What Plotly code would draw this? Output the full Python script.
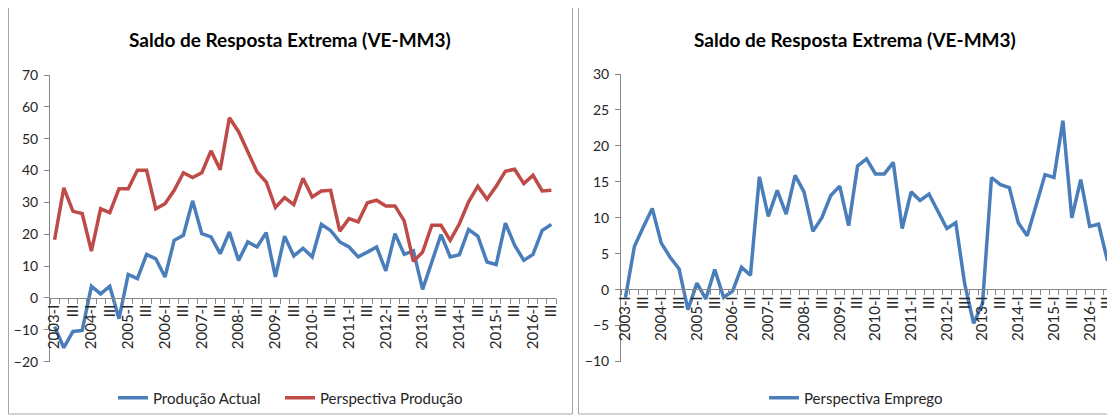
import plotly.graph_objects as go

W, H = 1115, 418
OFF = 8  # page body margin offset of the rendered figure

years = list(range(2003, 2017))
quarter_names = ["I", "II", "III", "IV"]
categories = [f"{y}-{q}" for y in years for q in quarter_names][:55]
# shown labels: every second category ("2003-I", "III", "2004-I", "III", ...)
tick_labels = [c if c.endswith("-I") else c.split("-")[1] for c in categories[::2]]

producao_actual = [-9.0, -15.6, -10.5, -10.2, 3.7, 1.3, 3.7, -6.5, 7.4, 6.1,
                   13.7, 12.3, 6.6, 18.1, 19.7, 30.5, 20.2, 19.2, 13.9, 20.7,
                   11.8, 17.6, 16.0, 20.5, 6.6, 19.4, 13.2, 15.6, 12.9, 23.1,
                   21.2, 17.6, 16.0, 12.9, 14.4, 16.0, 8.5, 20.2, 13.7, 14.8,
                   2.7, 11.3, 19.9, 12.9, 13.6, 21.5, 19.4, 11.3, 10.5, 23.5,
                   16.6, 11.8, 13.7, 21.2, 23.1]
perspectiva_producao = [18.3, 34.6, 27.2, 26.5, 14.7, 28.0, 26.8, 34.3, 34.3, 40.1,
                        40.1, 28.0, 29.6, 33.8, 39.3, 37.8, 39.3, 46.2, 40.3, 56.6,
                        52.2, 46.2, 39.6, 36.4, 28.4, 31.5, 29.3, 37.6, 31.7, 33.6,
                        33.8, 21.0, 24.9, 23.9, 29.9, 30.7, 28.9, 28.9, 24.2, 11.5,
                        14.4, 22.8, 22.8, 18.1, 23.3, 30.2, 35.1, 31.0, 35.1, 39.8,
                        40.4, 35.9, 38.5, 33.6, 33.8]
perspectiva_emprego = [-1.1, 6.0, 8.7, 11.3, 6.5, 4.5, 2.9, -2.8, 0.9, -1.3,
                       2.8, -1.1, -0.2, 3.1, 2.0, 15.7, 10.2, 13.8, 10.5, 15.9,
                       13.6, 8.1, 10.0, 13.1, 14.4, 8.9, 17.2, 18.2, 16.1, 16.1,
                       17.7, 8.5, 13.6, 12.4, 13.3, 11.0, 8.5, 9.3, 0.8, -4.7,
                       -1.9, 15.6, 14.6, 14.2, 9.3, 7.5, 11.7, 16.0, 15.6, 23.5,
                       10.0, 15.3, 8.8, 9.1, 4.0]

title_text = "Saldo de Resposta Extrema (VE-MM3)"

BLUE = "#4A7EBB"
RED = "#BE4B48"
AXIS = "#868686"
TXT = "#262626"
FONT = "Lato"

x_idx = list(range(len(categories)))
tick_vals = x_idx[::2]
boundaries = [i - 0.5 for i in range(len(categories) + 1)]


def px(sx):
    return (sx - OFF) / W


def py(sy):
    return 1 - (sy - OFF) / H


fig = go.Figure()
fig.add_trace(go.Scatter(x=x_idx, y=producao_actual, name="Produção Actual", mode="lines",
                         line=dict(color=BLUE, width=3.5), xaxis="x", yaxis="y", legend="legend",
                         customdata=categories))
fig.add_trace(go.Scatter(x=x_idx, y=perspectiva_producao, name="Perspectiva Produção", mode="lines",
                         line=dict(color=RED, width=3.5), xaxis="x", yaxis="y", legend="legend3",
                         customdata=categories))
fig.add_trace(go.Scatter(x=x_idx, y=perspectiva_emprego, name="Perspectiva Emprego", mode="lines",
                         line=dict(color=BLUE, width=3.5), xaxis="x2", yaxis="y2", legend="legend2",
                         customdata=categories))

xcommon = dict(range=[-0.5, len(categories) - 0.5], tickmode="array", tickvals=tick_vals,
               ticktext=tick_labels, tickangle=-90, ticks="", showgrid=False, zeroline=False,
               showline=True, linecolor=AXIS, linewidth=1,
               tickfont=dict(family=FONT, size=15, color=TXT),
               minor=dict(tickmode="array", tickvals=boundaries, ticks="outside", ticklen=5,
                          tickcolor=AXIS, showgrid=False),
               anchor="free", fixedrange=True, automargin=False)
ycommon = dict(showgrid=False, zeroline=False, showline=True, linecolor=AXIS, linewidth=1,
               ticks="outside", ticklen=5, tickcolor=AXIS, ticklabelstandoff=3,
               tickfont=dict(family=FONT, size=14, color=TXT), fixedrange=True, automargin=False)

legend_common = dict(orientation="h", yanchor="middle", xanchor="left",
                     font=dict(family=FONT, size=15, color=TXT), bgcolor="rgba(0,0,0,0)",
                     itemwidth=30)

fig.update_layout(
    width=W, height=H, margin=dict(l=0, r=0, t=0, b=0, autoexpand=False),
    paper_bgcolor="white", plot_bgcolor="white",
    xaxis=dict(domain=[px(50), px(556)], position=py(297.6), **xcommon),
    yaxis=dict(domain=[py(361.7), py(75)], range=[-20, 70], dtick=10, anchor="x", **ycommon),
    xaxis2=dict(domain=[px(621), px(1112)], position=py(289.3), **xcommon),
    yaxis2=dict(domain=[py(361.5), py(74)], range=[-10, 30], dtick=5, anchor="x2", **ycommon),
    legend=dict(x=px(113), y=py(398), **legend_common),
    legend3=dict(x=px(280), y=py(398), **legend_common),
    legend2=dict(x=px(764), y=py(398), **legend_common),
    showlegend=True,
)

fig.add_annotation(text=f"<b>{title_text}</b>", x=px(290), y=py(40), xref="paper", yref="paper",
                   showarrow=False, font=dict(family=FONT, size=19, color="#000000"),
                   xanchor="center", yanchor="middle")
fig.add_annotation(text=f"<b>{title_text}</b>", x=px(855), y=py(40), xref="paper", yref="paper",
                   showarrow=False, font=dict(family=FONT, size=19, color="#000000"),
                   xanchor="center", yanchor="middle")

# chart-area borders
fig.add_shape(type="rect", xref="paper", yref="paper", x0=px(8.5), x1=px(572.5),
              y0=py(414), y1=1.05, line=dict(color="#A6A6A6", width=1))
fig.add_shape(type="rect", xref="paper", yref="paper", x0=px(578.5), x1=1.05,
              y0=py(414), y1=1.05, line=dict(color="#A6A6A6", width=1))

fig.write_html("out.html")
